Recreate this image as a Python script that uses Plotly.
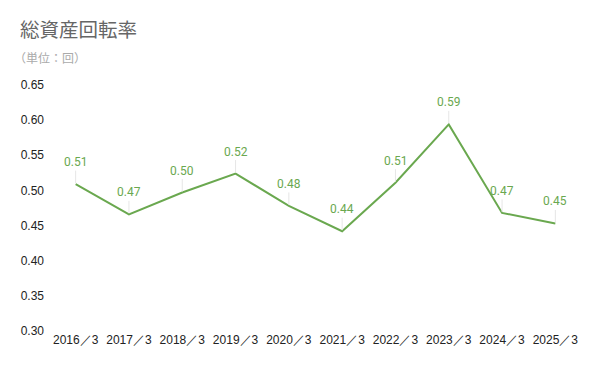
import plotly.graph_objects as go

categories = ["2016／3", "2017／3", "2018／3", "2019／3", "2020／3",
              "2021／3", "2022／3", "2023／3", "2024／3", "2025／3"]
values = [0.509, 0.466, 0.497, 0.524, 0.478, 0.442, 0.511, 0.594, 0.468, 0.453]
y_ticks = [0.30, 0.35, 0.40, 0.45, 0.50, 0.55, 0.60, 0.65]

GREEN = "#6aa84f"

fig = go.Figure()
fig.add_trace(go.Scatter(
    x=categories, y=values, mode="lines",
    line=dict(color=GREEN, width=2),
    hoverinfo="x+y", showlegend=False,
))

for c, v in zip(categories, values):
    fig.add_annotation(
        x=c, y=v, text=f"{v:.2f}",
        showarrow=True, arrowhead=0, arrowwidth=1, arrowcolor="#e6e6e6",
        ax=0, ay=-22, standoff=1,
        font=dict(family="Roboto", size=12, color=GREEN),
    )

# subtitle (unit)
fig.add_annotation(
    xref="paper", yref="paper", x=-0.07, y=1.1138, xanchor="left", yanchor="middle",
    text="（単位：回）", showarrow=False,
    font=dict(family="Noto Sans CJK JP", size=12, color="#aaaaaa"),
)

fig.update_layout(
    width=600, height=371,
    margin=dict(l=49, r=18, t=85, b=40),
    paper_bgcolor="white", plot_bgcolor="white",
    font=dict(family="Liberation Sans", size=12, color="#222222"),
    title=dict(
        text="総資産回転率",
        x=0.0333, xanchor="left", y=0.919, yanchor="middle",
        font=dict(family="Noto Sans CJK JP", size=19.5, color="#666666"),
    ),
    xaxis=dict(
        type="category", range=[-0.5, 9.5], showgrid=False, showline=False,
        zeroline=False, ticks="", tickfont=dict(size=12, color="#222222"),
    ),
    yaxis=dict(
        range=[0.30, 0.65], tickvals=y_ticks, ticktext=[f"{t:.2f}" for t in y_ticks],
        showgrid=False, showline=False, zeroline=False, ticks="",
        ticklabelstandoff=4, tickfont=dict(size=12, color="#222222"),
    ),
)

fig.write_html(
    "out.html",
    config={"displayModeBar": False},
    post_script="document.body.style.margin='0';document.body.style.overflow='hidden';",
)
